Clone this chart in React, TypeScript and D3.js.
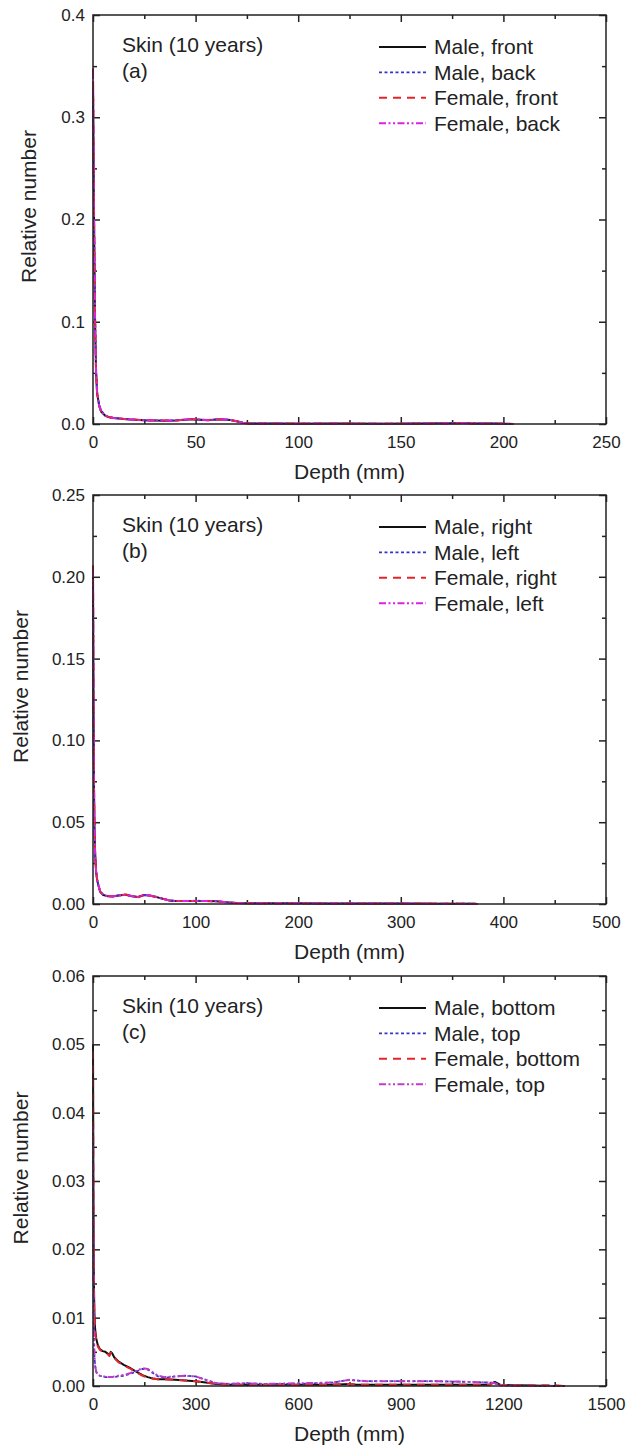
import * as React from 'react';
import * as d3 from 'd3';

// panel (a): front / back
const aDepth = [0, 0.5, 1, 1.5, 2, 3, 4, 6, 8, 10, 15, 20, 25, 30, 35, 40, 45, 48, 52, 56, 60, 63, 67, 70, 73, 76, 80, 90, 100, 120, 140, 160, 175, 180, 185, 195, 200, 205];
const aMaleFront = [0.33, 0.2, 0.1, 0.05, 0.03, 0.018, 0.012, 0.008, 0.0065, 0.0058, 0.0048, 0.0042, 0.0036, 0.0034, 0.0033, 0.0034, 0.0042, 0.0046, 0.0041, 0.0036, 0.0043, 0.0045, 0.0038, 0.0026, 0.0012, 0.0006, 0.0004, 0.0004, 0.0003, 0.0004, 0.0003, 0.0004, 0.0007, 0.0009, 0.0006, 0.0004, 0.0003, 0];
const aMaleBack = [0.34, 0.21, 0.11, 0.055, 0.032, 0.019, 0.013, 0.0085, 0.0068, 0.006, 0.005, 0.0043, 0.0037, 0.0035, 0.0034, 0.0035, 0.0044, 0.0048, 0.0043, 0.0037, 0.0044, 0.0047, 0.004, 0.0028, 0.0013, 0.0007, 0.0005, 0.0004, 0.0004, 0.0004, 0.0004, 0.0005, 0.0008, 0.001, 0.0007, 0.0005, 0.0003, 0];
const aFemaleFront = [0.348, 0.21, 0.105, 0.052, 0.031, 0.018, 0.012, 0.008, 0.0066, 0.0059, 0.0049, 0.0043, 0.0037, 0.0034, 0.0034, 0.0035, 0.0045, 0.005, 0.0044, 0.0038, 0.0045, 0.0046, 0.0039, 0.0027, 0.0012, 0.0006, 0.0004, 0.0004, 0.0004, 0.0004, 0.0003, 0.0004, 0.0008, 0.001, 0.0006, 0.0004, 0.0003, 0];
const aFemaleBack = [0.345, 0.205, 0.1, 0.05, 0.03, 0.018, 0.012, 0.0082, 0.0067, 0.0059, 0.0049, 0.0042, 0.0036, 0.0034, 0.0033, 0.0035, 0.0043, 0.0047, 0.0042, 0.0037, 0.0044, 0.0046, 0.0039, 0.0027, 0.0012, 0.0006, 0.0005, 0.0004, 0.0004, 0.0004, 0.0003, 0.0004, 0.0007, 0.0009, 0.0006, 0.0004, 0.0003, 0];

// panel (b): right / left
const bDepth = [0, 0.5, 1, 1.5, 2, 3, 4, 5, 7, 10, 14, 19, 25, 32, 38, 44, 50, 56, 62, 68, 74, 80, 90, 100, 110, 120, 130, 140, 150, 170, 200, 230, 260, 300, 340, 370, 375];
const bMaleRight = [0.2, 0.12, 0.07, 0.045, 0.032, 0.02, 0.015, 0.012, 0.0075, 0.0055, 0.0048, 0.0046, 0.0052, 0.0056, 0.0048, 0.0042, 0.0055, 0.005, 0.0042, 0.0032, 0.0022, 0.0018, 0.0018, 0.0019, 0.0018, 0.0017, 0.001, 0.0006, 0.0005, 0.0004, 0.0004, 0.0003, 0.0003, 0.0003, 0.0002, 0.0002, 0];
const bMaleLeft = [0.198, 0.118, 0.068, 0.044, 0.031, 0.02, 0.015, 0.012, 0.0076, 0.0056, 0.0049, 0.0047, 0.0053, 0.0057, 0.0049, 0.0043, 0.0056, 0.0051, 0.0043, 0.0033, 0.0023, 0.0019, 0.0019, 0.002, 0.0019, 0.0017, 0.0011, 0.0006, 0.0005, 0.0004, 0.0004, 0.0003, 0.0003, 0.0003, 0.0002, 0.0002, 0];
const bFemaleRight = [0.207, 0.125, 0.072, 0.046, 0.033, 0.021, 0.015, 0.012, 0.0076, 0.0055, 0.0049, 0.0047, 0.0053, 0.0058, 0.0049, 0.0043, 0.0057, 0.0051, 0.0043, 0.0032, 0.0022, 0.0018, 0.0018, 0.0019, 0.0018, 0.0016, 0.001, 0.0006, 0.0005, 0.0004, 0.0004, 0.0003, 0.0003, 0.0003, 0.0002, 0.0002, 0];
const bFemaleLeft = [0.204, 0.122, 0.07, 0.045, 0.032, 0.02, 0.015, 0.012, 0.0075, 0.0055, 0.0048, 0.0046, 0.0052, 0.0057, 0.0048, 0.0042, 0.0056, 0.005, 0.0042, 0.0032, 0.0022, 0.0018, 0.0018, 0.0019, 0.0018, 0.0017, 0.001, 0.0006, 0.0005, 0.0004, 0.0004, 0.0003, 0.0003, 0.0003, 0.0002, 0.0002, 0];

// panel (c): bottom / top
const cDepth = [0, 1, 2, 3, 4, 6, 8, 10, 14, 20, 28, 36, 44, 48, 52, 56, 62, 74, 90, 110, 130, 145, 160, 175, 190, 210, 240, 270, 300, 330, 360, 400, 450, 500, 600, 700, 750, 770, 800, 900, 1000, 1100, 1160, 1175, 1190, 1250, 1350, 1380];
const cMaleBottom = [0.05, 0.032, 0.02, 0.014, 0.011, 0.0085, 0.0075, 0.0068, 0.006, 0.0054, 0.0051, 0.005, 0.0047, 0.0045, 0.005, 0.0048, 0.0042, 0.0036, 0.0031, 0.0026, 0.002, 0.0016, 0.0013, 0.0011, 0.001, 0.001, 0.0009, 0.0008, 0.0007, 0.0005, 0.0003, 0.0002, 0.0002, 0.0002, 0.0002, 0.0002, 0.0003, 0.0002, 0.0002, 0.0002, 0.0002, 0.0002, 0.0002, 0.0006, 0.0002, 0.0001, 0, 0];
const cMaleTop = [0.036, 0.02, 0.011, 0.0065, 0.0045, 0.003, 0.0024, 0.002, 0.0017, 0.0015, 0.0014, 0.0013, 0.0013, 0.0013, 0.0013, 0.0013, 0.0013, 0.0014, 0.0015, 0.0018, 0.0022, 0.0025, 0.0024, 0.0019, 0.0014, 0.0012, 0.0014, 0.0015, 0.0014, 0.0009, 0.0004, 0.0003, 0.0004, 0.0003, 0.0003, 0.0005, 0.0009, 0.0008, 0.0007, 0.0007, 0.0007, 0.0006, 0.0005, 0.0004, 0.0001, 0, 0, 0];
const cFemaleBottom = [0.049, 0.03, 0.019, 0.013, 0.0105, 0.0082, 0.0072, 0.0066, 0.0058, 0.0053, 0.005, 0.0049, 0.0046, 0.0044, 0.0049, 0.0047, 0.0041, 0.0035, 0.003, 0.0025, 0.0019, 0.0015, 0.0012, 0.0011, 0.001, 0.001, 0.0009, 0.0008, 0.0007, 0.0005, 0.0003, 0.0002, 0.0002, 0.0002, 0.0002, 0.0002, 0.0003, 0.0002, 0.0002, 0.0002, 0.0002, 0.0002, 0.0002, 0.0006, 0.0002, 0.0001, 0.0001, 0];
const cFemaleTop = [0.038, 0.022, 0.012, 0.007, 0.0048, 0.0031, 0.0025, 0.002, 0.0017, 0.0015, 0.0014, 0.0014, 0.0013, 0.0013, 0.0013, 0.0013, 0.0014, 0.0015, 0.0016, 0.0019, 0.0023, 0.0026, 0.0025, 0.002, 0.0015, 0.0013, 0.0014, 0.0015, 0.0014, 0.0009, 0.0004, 0.0003, 0.0004, 0.0003, 0.0004, 0.0005, 0.0009, 0.0008, 0.0007, 0.0007, 0.0007, 0.0006, 0.0005, 0.0004, 0.0001, 0, 0, 0];

const aLabels = ['Male, front', 'Male, back', 'Female, front', 'Female, back'];
const bLabels = ['Male, right', 'Male, left', 'Female, right', 'Female, left'];
const cLabels = ['Male, bottom', 'Male, top', 'Female, bottom', 'Female, top'];

const W = 626
const H = 1447
const LEFT = 93
const RIGHT = 606
const FONT = '"Liberation Sans", Arial, sans-serif'

const styles = [
  { color: '#111111', dash: null, width: 2 },
  { color: '#3535c8', dash: '3,2.5', width: 1.8 },
  { color: '#e3262b', dash: '8,6', width: 2 },
  { color: '#dd22dd', dash: '7,2.5,2,2.5,2,2.5', width: 2 },
]

const panels = [
  { top: 15, bottom: 424, xMax: 250, xMajor: 50, yMax: 0.4, yMajor: 0.1, fmt: '.1f', tag: '(a)', depth: aDepth,
    series: [aMaleFront, aMaleBack, aFemaleFront, aFemaleBack], labels: aLabels, yTitleX: 29, magenta: '#dd22dd' },
  { top: 495, bottom: 904, xMax: 500, xMajor: 100, yMax: 0.25, yMajor: 0.05, fmt: '.2f', tag: '(b)', depth: bDepth,
    series: [bMaleRight, bMaleLeft, bFemaleRight, bFemaleLeft], labels: bLabels, yTitleX: 21, magenta: '#dd22dd' },
  { top: 976, bottom: 1386, xMax: 1500, xMajor: 300, yMax: 0.06, yMajor: 0.01, fmt: '.2f', tag: '(c)', depth: cDepth,
    series: [cMaleBottom, cMaleTop, cFemaleBottom, cFemaleTop], labels: cLabels, yTitleX: 21, magenta: '#c03cc8' },
]

export default function App() {
  const svg_root = React.useRef<SVGSVGElement>(null)

  React.useEffect(() => {
    const svg = d3.select(svg_root.current)
    svg.selectAll('*').remove()

    panels.forEach(p => {
      const x = d3.scaleLinear().domain([0, p.xMax]).range([LEFT, RIGHT])
      const y = d3.scaleLinear().domain([0, p.yMax]).range([p.bottom, p.top])
      const g = svg.append('g')

      const xMajor = d3.range(0, p.xMax + 1e-9, p.xMajor)
      const xMinor = d3.range(p.xMajor / 2, p.xMax, p.xMajor)
      const yMajor = d3.range(0, p.yMax + 1e-9, p.yMajor)
      const yMinor = d3.range(p.yMajor / 2, p.yMax, p.yMajor)

      // bottom + left with labels
      const bx = g.append('g').attr('transform', `translate(0,${p.bottom})`)
        .call(d3.axisBottom(x).tickValues(xMajor).tickSize(-7).tickPadding(12).tickFormat(d3.format('d')))
      bx.append('g').call(d3.axisBottom(x).tickValues(xMinor).tickSize(-4).tickFormat(() => ''))
      const ly = g.append('g').attr('transform', `translate(${LEFT},0)`)
        .call(d3.axisLeft(y).tickValues(yMajor).tickSize(-7).tickPadding(8).tickFormat(d3.format(p.fmt)))
      ly.append('g').call(d3.axisLeft(y).tickValues(yMinor).tickSize(-4).tickFormat(() => ''))

      // top + right, ticks only
      const tx = g.append('g').attr('transform', `translate(0,${p.top})`)
        .call(d3.axisTop(x).tickValues(xMajor).tickSize(-7).tickFormat(() => ''))
      tx.append('g').call(d3.axisTop(x).tickValues(xMinor).tickSize(-4).tickFormat(() => ''))
      const ry = g.append('g').attr('transform', `translate(${RIGHT},0)`)
        .call(d3.axisRight(y).tickValues(yMajor).tickSize(-7).tickFormat(() => ''))
      ry.append('g').call(d3.axisRight(y).tickValues(yMinor).tickSize(-4).tickFormat(() => ''))

      g.selectAll('.domain').remove()
      g.selectAll('.tick line').attr('stroke', '#222').attr('stroke-width', 1.5)
      g.selectAll('.tick text').attr('font-family', FONT).attr('font-size', 17).attr('fill', '#222')

      // curves
      const line = d3.line<number>()
        .x((_, i) => x(p.depth[i]))
        .y(d => y(d))
      p.series.forEach((s, k) => {
        const st = styles[k]
        g.append('path')
          .datum(s)
          .attr('d', line)
          .attr('fill', 'none')
          .attr('stroke', k === 3 ? p.magenta : st.color)
          .attr('stroke-width', st.width)
          .attr('stroke-dasharray', st.dash)
          .attr('stroke-linejoin', 'round')
      })

      // frame
      g.append('rect')
        .attr('x', LEFT).attr('y', p.top)
        .attr('width', RIGHT - LEFT).attr('height', p.bottom - p.top)
        .attr('fill', 'none').attr('stroke', '#222').attr('stroke-width', 1.5)

      // annotation
      g.append('text').attr('x', 122).attr('y', p.top + 37)
        .attr('font-family', FONT).attr('font-size', 21).attr('fill', '#222')
        .text('Skin (10 years)')
      g.append('text').attr('x', 122).attr('y', p.top + 63)
        .attr('font-family', FONT).attr('font-size', 21).attr('fill', '#222')
        .text(p.tag)

      // legend
      p.labels.forEach((lab, k) => {
        const st = styles[k]
        const ly0 = p.top + 32 + k * 25.4
        g.append('line')
          .attr('x1', 379).attr('x2', 426).attr('y1', ly0).attr('y2', ly0)
          .attr('stroke', k === 3 ? p.magenta : st.color)
          .attr('stroke-width', st.width)
          .attr('stroke-dasharray', st.dash)
        g.append('text').attr('x', 434).attr('y', ly0).attr('dy', '0.35em')
          .attr('font-family', FONT).attr('font-size', 21).attr('fill', '#222')
          .text(lab)
      })

      // axis titles
      g.append('text')
        .attr('x', (LEFT + RIGHT) / 2).attr('y', p.bottom + 55)
        .attr('text-anchor', 'middle')
        .attr('font-family', FONT).attr('font-size', 21).attr('fill', '#222')
        .text('Depth (mm)')
      g.append('text')
        .attr('transform', `translate(${p.yTitleX},${(p.top + p.bottom) / 2 - 13}) rotate(-90)`)
        .attr('text-anchor', 'middle').attr('dy', '0.35em')
        .attr('font-family', FONT).attr('font-size', 21).attr('fill', '#222')
        .text('Relative number')
    })
  }, [])

  return (
    <div style={{ position: 'absolute', left: 0, top: 0 }}>
      <svg width={W} height={H} ref={svg_root} style={{ display: 'block', background: '#fff' }}></svg>
    </div>
  )
}
